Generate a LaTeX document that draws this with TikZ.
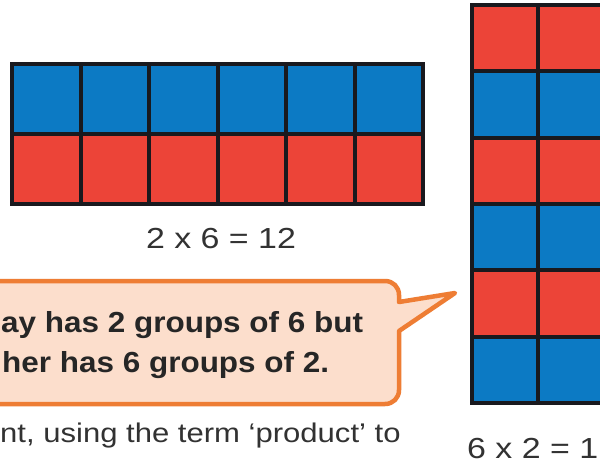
\documentclass[tikz,border=0pt]{standalone}
\usepackage{fontspec}
\setmainfont{Liberation Sans}
\usepackage{graphicx}
\definecolor{cblue}{RGB}{12,122,196}
\definecolor{cred}{RGB}{236,68,56}
\definecolor{gridc}{RGB}{25,25,30}
\definecolor{borange}{RGB}{238,125,52}
\definecolor{bfill}{RGB}{252,222,204}
\definecolor{txt}{RGB}{50,50,50}
\tikzset{
  gridline/.style={draw=gridc, line width=4pt, line join=miter},
  bubble/.style={draw=borange, fill=bfill, line width=4.5pt, line join=round},
  eqlabel/.style={inner sep=0pt, text=txt, font=\fontsize{29}{34}\selectfont},
  bubtext/.style={inner sep=0pt, text=black!85, font=\fontsize{29}{34}\selectfont\bfseries, anchor=base west},
  bodytext/.style={inner sep=0pt, text=txt, font=\fontsize{27}{32}\selectfont, anchor=base west}
}
\begin{document}
\begin{tikzpicture}[x=1pt,y=-1pt]
\useasboundingbox[fill=white] (0,0) rectangle (600,464);
% horizontal array 2 x 6
\fill[cblue] (12,64) rectangle (423,134);
\fill[cred] (12,134) rectangle (423,204);
\foreach \i in {1,...,5} \draw[gridline] ({12+\i*68.5},64) -- ({12+\i*68.5},204);
\draw[gridline] (12,134) -- (423,134);
\draw[gridline] (12,64) rectangle (423,204);
% vertical array 6 x 2
\foreach \r/\c in {0/cred,1/cblue,2/cred,3/cblue,4/cred,5/cblue}
  \fill[\c] (472,{5+\r*66.33}) rectangle (606,{5+(\r+1)*66.33});
\foreach \r in {1,...,5} \draw[gridline] (472,{5+\r*66.33}) -- (606,{5+\r*66.33});
\draw[gridline] (538,5) -- (538,403);
\draw[gridline] (606,5) -- (472,5) -- (472,403) -- (606,403);
% labels
\node[eqlabel, anchor=base] (lab1) at (221,248) {\scalebox{1.17}[1]{2 x 6 = 12}};
\node[eqlabel, anchor=base west] (lab2) at (467,458) {\scalebox{1.17}[1]{6 x 2 = 1}};
% speech bubble
\draw[bubble] (-20,281) -- (385,281) .. controls (393,281) and (399,287) .. (399,295)
  -- (399,302) -- (455,293) -- (399,331) -- (399,390)
  .. controls (399,398) and (393,404) .. (385,404) -- (-20,404) -- cycle;
\node[bubtext] (b1) at (1,332) {\scalebox{1.085}[1]{ay has 2 groups of 6 but}};
\node[bubtext] (b2) at (2,372) {\scalebox{1.085}[1]{her has 6 groups of 2.}};
% body text
\node[bodytext] (body) at (0,442) {\scalebox{1.15}[1]{nt, using the term ‘product’ to}};
\end{tikzpicture}
\end{document}
